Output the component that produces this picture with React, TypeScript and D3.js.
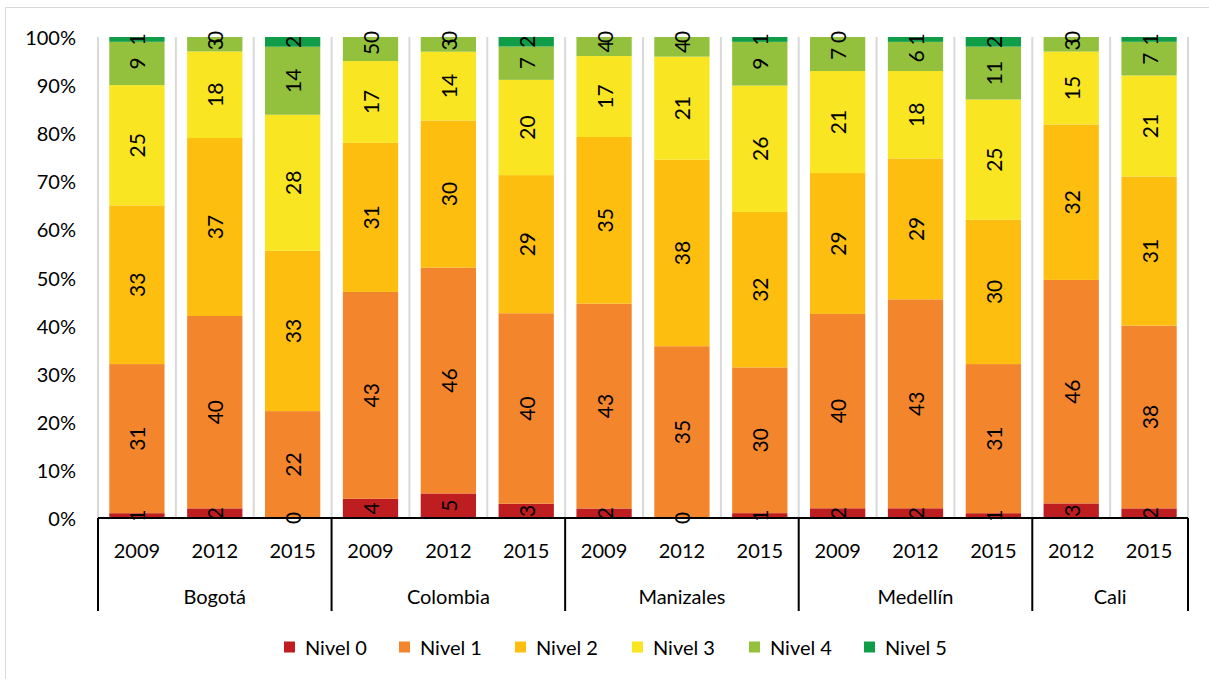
import React from "react";
import * as d3 from "d3";

const groups = ["Bogotá", "Colombia", "Manizales", "Medellín", "Cali"];
const groupYears: string[][] = [
  ["2009", "2012", "2015"],
  ["2009", "2012", "2015"],
  ["2009", "2012", "2015"],
  ["2009", "2012", "2015"],
  ["2012", "2015"],
];
const levels = ["Nivel 0", "Nivel 1", "Nivel 2", "Nivel 3", "Nivel 4", "Nivel 5"];
const colors = ["#BE1E1F", "#F3862C", "#FDBE10", "#F9E522", "#93C13E", "#0F9D48"];

// values per bar (14 bars, in order)
const nivel0 = [1, 2, 0, 4, 5, 3, 2, 0, 1, 2, 2, 1, 3, 2];
const nivel1 = [31, 40, 22, 43, 46, 40, 43, 35, 30, 40, 43, 31, 46, 38];
const nivel2 = [33, 37, 33, 31, 30, 29, 35, 38, 32, 29, 29, 30, 32, 31];
const nivel3 = [25, 18, 28, 17, 14, 20, 17, 21, 26, 21, 18, 25, 15, 21];
const nivel4 = [9, 3, 14, 5, 3, 7, 4, 4, 9, 7, 6, 11, 3, 7];
const nivel5 = [1, 0, 2, 0, 0, 2, 0, 0, 1, 0, 1, 2, 0, 1];
const yTicks = [0, 0.1, 0.2, 0.3, 0.4, 0.5, 0.6, 0.7, 0.8, 0.9, 1];

const series = [nivel0, nivel1, nivel2, nivel3, nivel4, nivel5];

const W = 1209;
const H = 679;
const L = 98, R = 1188, T = 37, B = 518;
const FONT = "Lato, 'Open Sans', sans-serif";
const FS = 20;

export default function App() {
  const bars: { id: string; group: number; year: string }[] = [];
  groups.forEach((g, gi) =>
    groupYears[gi].forEach((yr) => bars.push({ id: `${gi}-${yr}`, group: gi, year: yr }))
  );
  const x = d3
    .scaleBand<string>()
    .domain(bars.map((b) => b.id))
    .range([L, R])
    .paddingInner(0.29)
    .paddingOuter(0.145);
  const step = x.step();
  const y = d3.scaleLinear().domain([0, 1]).range([B, T]);

  const segs: { x: number; w: number; y0: number; y1: number; c: string; v: number; key: string }[] = [];
  bars.forEach((b, i) => {
    const total = series.reduce((s, arr) => s + arr[i], 0);
    let acc = 0;
    series.forEach((arr, li) => {
      const v = arr[i];
      const a = acc / total;
      acc += v;
      const e = acc / total;
      segs.push({ x: x(b.id)!, w: x.bandwidth(), y0: y(a), y1: y(e), c: colors[li], v, key: `${b.id}-${li}` });
    });
  });

  const boundaries: number[] = [L];
  let idx = 0;
  groupYears.forEach((yrs) => {
    idx += yrs.length;
    boundaries.push(L + idx * step);
  });

  const legendX = [284, 399, 515, 632, 749, 864];

  return (
    <svg
      width={W}
      height={H}
      style={{ position: "absolute", left: 0, top: 0, background: "#fff" }}
      fontFamily={FONT}
    >
      <rect x={5.5} y={7.5} width={W + 10} height={H + 10} fill="#fff" stroke="#d9d9d9" strokeWidth={1} />
      {d3.range(bars.length + 1).map((i) => (
        <line key={"g" + i} x1={L + i * step} x2={L + i * step} y1={T} y2={B} stroke="#d9d9d9" strokeWidth={2} />
      ))}
      {segs.map((s) => (
        <rect key={s.key} x={s.x} width={s.w} y={s.y1} height={Math.max(0, s.y0 - s.y1)} fill={s.c} />
      ))}
      {segs.map((s) => {
        const cx = s.x + s.w / 2;
        const cy = (s.y0 + s.y1) / 2;
        return (
          <text
            key={"t" + s.key}
            transform={`translate(${cx},${cy}) rotate(-90)`}
            textAnchor="middle"
            dominantBaseline="central"
            fontSize={21}
            fill="#000"
          >
            {d3.format("d")(s.v)}
          </text>
        );
      })}
      {yTicks.map((t) => (
        <text key={"y" + t} x={76} y={y(t)} textAnchor="end" dominantBaseline="central" fontSize={FS} fill="#000">
          {d3.format(".0%")(t)}
        </text>
      ))}
      <line x1={L} x2={R} y1={B} y2={B} stroke="#000" strokeWidth={2} />
      {boundaries.map((bx, i) => (
        <line key={"b" + i} x1={bx} x2={bx} y1={B} y2={611} stroke="#000" strokeWidth={2} />
      ))}
      {bars.map((b) => (
        <text
          key={"yr" + b.id}
          x={x(b.id)! + x.bandwidth() / 2}
          y={550}
          textAnchor="middle"
          dominantBaseline="central"
          fontSize={FS}
          fill="#000"
        >
          {b.year}
        </text>
      ))}
      {groups.map((g, gi) => (
        <text
          key={"gr" + g}
          x={(boundaries[gi] + boundaries[gi + 1]) / 2}
          y={596}
          textAnchor="middle"
          dominantBaseline="central"
          fontSize={FS}
          fill="#000"
        >
          {g}
        </text>
      ))}
      {levels.map((lv, i) => (
        <g key={lv} transform={`translate(${legendX[i]},647)`}>
          <rect x={0} y={-5.5} width={11} height={11} fill={colors[i]} />
          <text x={21} y={0} dominantBaseline="central" fontSize={FS} fill="#000">
            {lv}
          </text>
        </g>
      ))}
    </svg>
  );
}
